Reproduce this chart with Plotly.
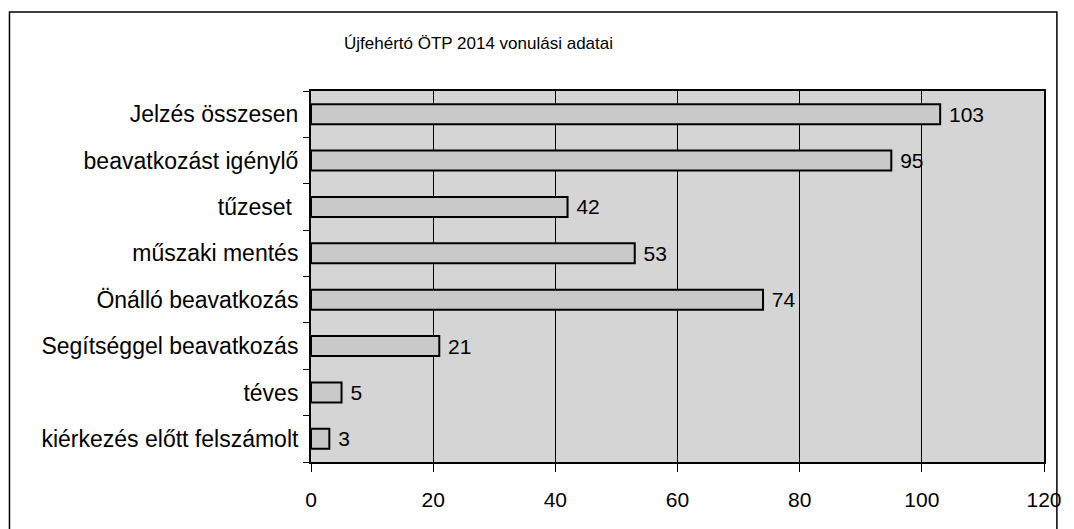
import plotly.graph_objects as go

categories = [
    "Jelzés összesen",
    "beavatkozást igénylő",
    "tűzeset ",
    "műszaki mentés",
    "Önálló beavatkozás",
    "Segítséggel beavatkozás",
    "téves",
    "kiérkezés előtt felszámolt",
]
values = [103, 95, 42, 53, 74, 21, 5, 3]
x_ticks = [0, 20, 40, 60, 80, 100, 120]
title_text = "Újfehértó ÖTP 2014 vonulási adatai"

W, H = 1074, 529
L, R, T, B = 311, 24, 91, 67
pw, ph = W - L - R, H - T - B

def px_x(p):
    return (p - L) / pw

def px_y(p):
    return (H - B - p) / ph

font_family = "Liberation Sans, Arial, sans-serif"

fig = go.Figure(
    go.Bar(
        y=categories,
        x=values,
        orientation="h",
        width=0.43,
        marker=dict(color="#c9c9c9", line=dict(color="#000000", width=2)),
        text=[str(v) for v in values],
        texttemplate=" %{text}",
        textposition="outside",
        constraintext="none",
        textfont=dict(family=font_family, size=21, color="#000000"),
        cliponaxis=False,
    )
)

fig.update_layout(
    width=W,
    height=H,
    margin=dict(l=L, r=R, t=T, b=B),
    paper_bgcolor="#ffffff",
    plot_bgcolor="#d5d5d5",
    showlegend=False,
    font=dict(family=font_family, size=16, color="#000000"),
    xaxis=dict(
        range=[0, 120],
        tickvals=x_ticks,
        ticktext=[str(t) for t in x_ticks],
        showgrid=True,
        gridcolor="#000000",
        gridwidth=1,
        zeroline=False,
        showline=True,
        linecolor="#000000",
        linewidth=2,
        mirror=True,
        ticks="outside",
        ticklen=8,
        tickcolor="#000000",
        tickfont=dict(size=21),
        ticklabelstandoff=10,
        fixedrange=True,
    ),
    yaxis=dict(
        categoryorder="array",
        categoryarray=categories[::-1],
        autorange=False,
        range=[-0.5, len(categories) - 0.5],
        showline=True,
        linecolor="#000000",
        linewidth=2,
        mirror=True,
        ticks="outside",
        tickson="boundaries",
        ticklen=6,
        tickcolor="#000000",
        showgrid=False,
        tickfont=dict(size=23),
        ticklabelstandoff=6,
        fixedrange=True,
    ),
    bargap=0.57,
)

# chart border around the whole figure area
fig.add_shape(
    type="rect",
    xref="paper",
    yref="paper",
    x0=px_x(7),
    x1=px_x(1063),
    y0=px_y(540),
    y1=px_y(12),
    line=dict(color="#000000", width=1.5),
    fillcolor="rgba(0,0,0,0)",
    layer="below",
)

fig.add_annotation(
    text=title_text,
    xref="paper",
    yref="paper",
    x=px_x(480),
    y=px_y(44),
    showarrow=False,
    font=dict(family=font_family, size=17, color="#000000"),
    xanchor="center",
    yanchor="middle",
)

fig.write_html("out.html")
